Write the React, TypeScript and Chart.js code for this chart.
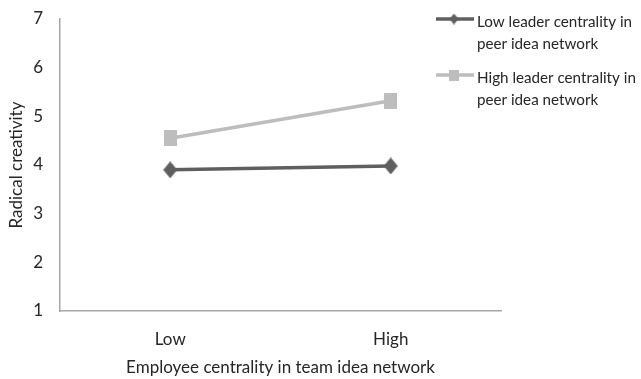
import React, { useEffect, useRef } from "react";
import { Chart, registerables } from "chart.js";

Chart.register(...registerables);

const categories = ["Low", "High"];
const lowLeaderValues = [3.9, 3.98];
const highLeaderValues = [4.55, 5.32];
const seriesLabels = [
  ["Low leader centrality in", "peer idea network"],
  ["High leader centrality in", "peer idea network"],
];
const yTicks = [1, 2, 3, 4, 5, 6, 7];
const yTitle = "Radical creativity";
const xTitle = "Employee centrality in team idea network";

const FONT = "Lato, 'Open Sans', sans-serif";
const DARK = "#5f5f5f";
const LIGHT = "#bdbdbd";
const TEXT = "#262626";

function makeMarker(kind: string, w: number, h: number, color: string) {
  const c = document.createElement("canvas");
  c.width = w;
  c.height = h;
  const ctx = c.getContext("2d")!;
  ctx.fillStyle = color;
  if (kind === "diamond") {
    ctx.beginPath();
    ctx.moveTo(w / 2, 0);
    ctx.lineTo(w, h / 2);
    ctx.lineTo(w / 2, h);
    ctx.lineTo(0, h / 2);
    ctx.closePath();
    ctx.fill();
  } else {
    ctx.fillRect(0, 0, w, h);
  }
  return c;
}

const legendPlugin = {
  id: "customLegend",
  afterDraw(chart: any) {
    const ctx = chart.ctx;
    const items = [
      { color: DARK, kind: "diamond", w: 9, h: 11, lines: seriesLabels[0], y: 19 },
      { color: LIGHT, kind: "rect", w: 10, h: 11, lines: seriesLabels[1], y: 75 },
    ];
    ctx.save();
    items.forEach((it) => {
      ctx.strokeStyle = it.color;
      ctx.lineWidth = 3.5;
      ctx.beginPath();
      ctx.moveTo(436, it.y);
      ctx.lineTo(474, it.y);
      ctx.stroke();
      const x = 454;
      const y = it.y;
      ctx.drawImage(makeMarker(it.kind, it.w, it.h, it.color), x - it.w / 2, y - it.h / 2);
      ctx.fillStyle = TEXT;
      ctx.font = "15.2px " + FONT;
      ctx.textBaseline = "middle";
      ctx.textAlign = "left";
      it.lines.forEach((t, i) => {
        ctx.fillText(t, 477, it.y + 3 + i * 22);
      });
    });
    ctx.restore();
  },
};

export default function App() {
  const ref = useRef<HTMLCanvasElement>(null);
  useEffect(() => {
    const canvas = ref.current;
    if (!canvas) return;
    const chart = new Chart(canvas, {
      type: "line",
      data: {
        labels: categories,
        datasets: [
          {
            label: seriesLabels[0].join(" "),
            data: lowLeaderValues,
            borderColor: DARK,
            backgroundColor: DARK,
            borderWidth: 3.5,
            pointStyle: makeMarker("diamond", 14, 17, DARK) as any,
            pointRadius: 7,
          },
          {
            label: seriesLabels[1].join(" "),
            data: highLeaderValues,
            borderColor: LIGHT,
            backgroundColor: LIGHT,
            borderWidth: 3.5,
            pointStyle: makeMarker("rect", 13, 16, LIGHT) as any,
            pointRadius: 8,
          },
        ],
      },
      options: {
        responsive: false,
        animation: false,
        maintainAspectRatio: false,
        layout: { padding: { left: 0, top: 19, right: 140, bottom: 0 } },
        plugins: {
          legend: { display: false },
          tooltip: { enabled: false },
        },
        scales: {
          x: {
            offset: true,
            grid: { display: false, drawTicks: false },
            border: { display: true, color: "#a6a6a6", width: 1.5 },
            ticks: { color: TEXT, font: { family: FONT, size: 17 }, padding: 18 },
            title: {
              display: true,
              text: xTitle,
              color: TEXT,
              font: { family: FONT, size: 17 },
              padding: { top: 4, bottom: 1 },
            },
            afterFit: (s: any) => {
              s.height = 68;
            },
          },
          y: {
            min: 1,
            max: 7,
            grid: { display: false, drawTicks: false },
            border: { display: true, color: "#a6a6a6", width: 1.5 },
            afterBuildTicks: (s: any) => {
              s.ticks = yTicks.map((v) => ({ value: v }));
            },
            ticks: { color: TEXT, font: { family: FONT, size: 17 }, padding: 17 },
            title: {
              display: true,
              text: yTitle,
              color: TEXT,
              font: { family: FONT, size: 17 },
              padding: { top: 6, bottom: 0 },
            },
            afterFit: (s: any) => {
              s.width = 60;
              s.paddingTop = 0;
              s.paddingBottom = 0;
            },
          },
        },
      },
      plugins: [legendPlugin],
    });
    return () => chart.destroy();
  }, []);
  return (
    <div style={{ position: "absolute", left: 0, top: 0, width: 641, height: 379, background: "#fff" }}>
      <canvas ref={ref} width={641} height={379} style={{ width: 641, height: 379 }} />
    </div>
  );
}
